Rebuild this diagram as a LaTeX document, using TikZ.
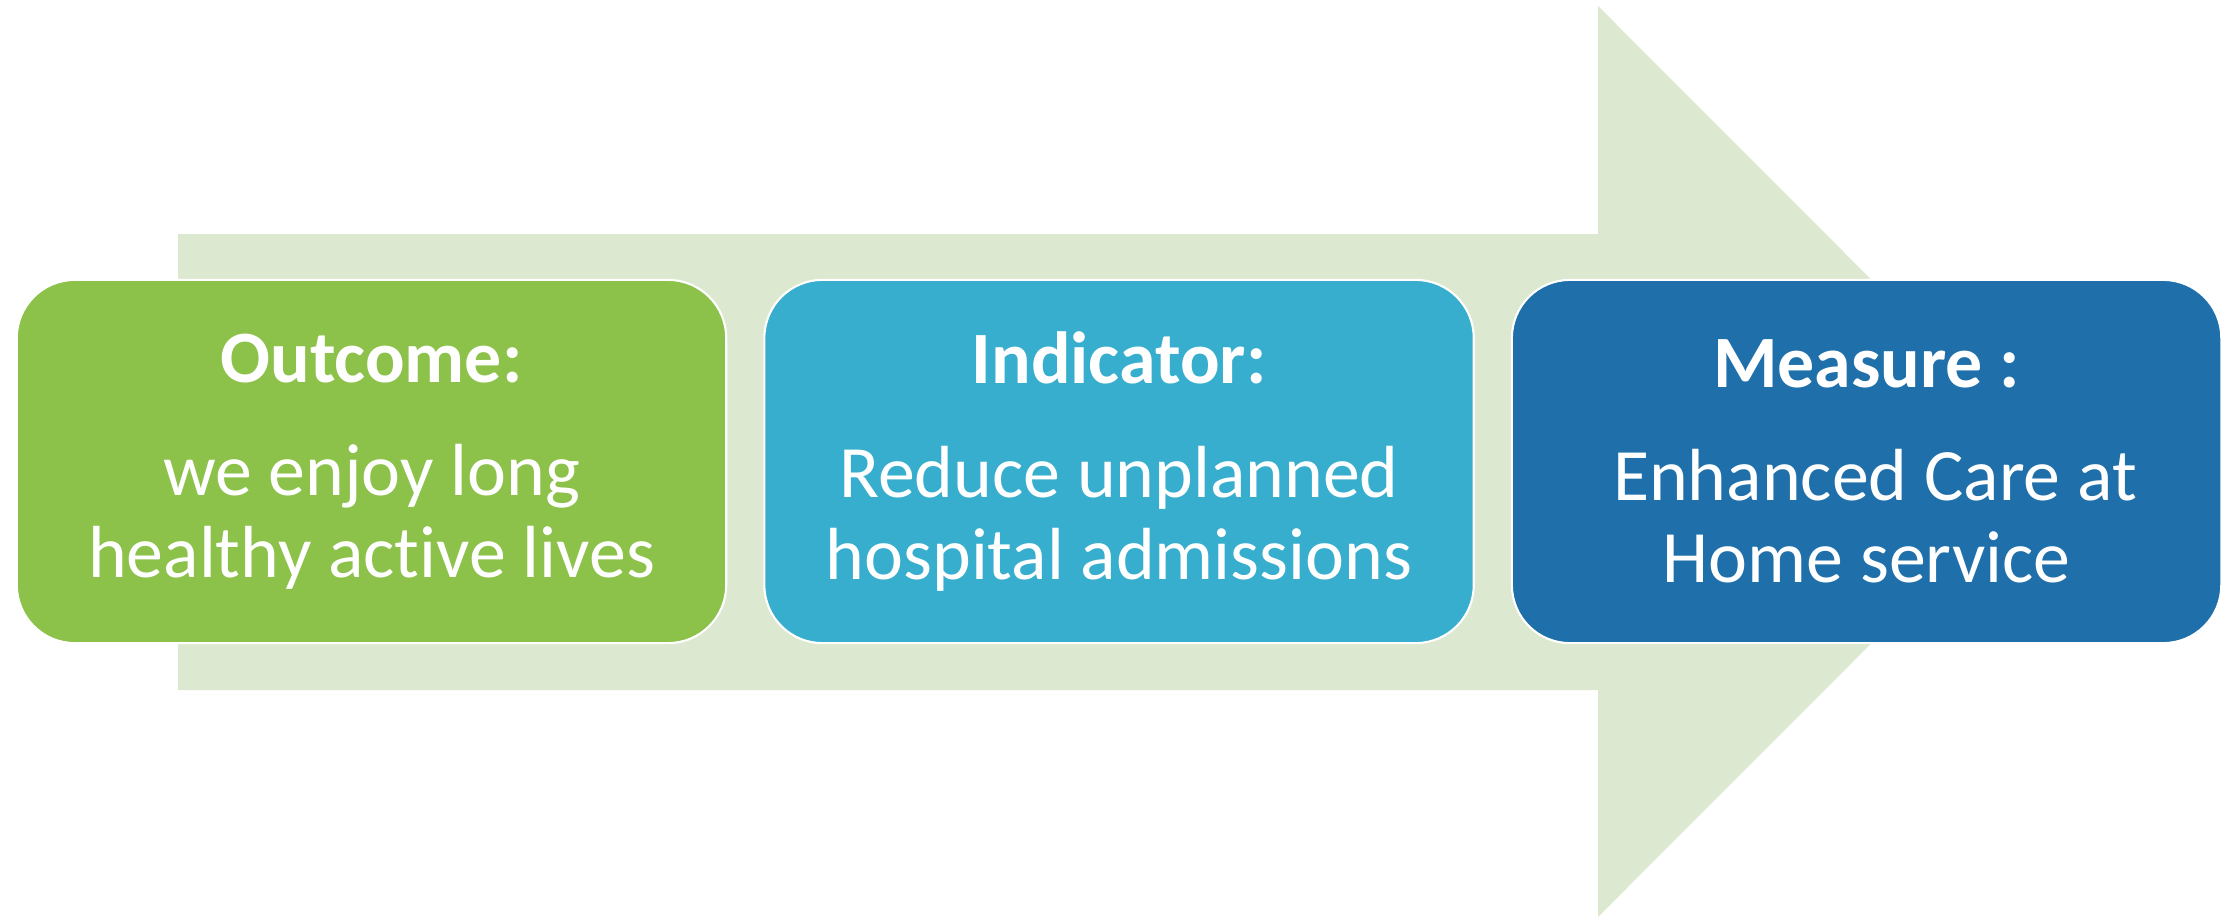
\documentclass[tikz,border=0pt]{standalone}
\usepackage{fontspec}
\setmainfont{Carlito}[Ligatures=NoCommon]
\usetikzlibrary{positioning}

\definecolor{outgreen}{RGB}{140,193,74}
\definecolor{indcyan}{RGB}{55,174,205}
\definecolor{measblue}{RGB}{31,112,170}
\definecolor{arrowgreen}{RGB}{220,232,208}

\tikzset{stagebox/.style={draw=white, line width=0.6pt, rounded corners=0.58cm,
    minimum width=7.09cm, minimum height=3.63cm, text=white, align=center,
    inner sep=0pt, font=\fontsize{21}{23.3}\selectfont}}

\begin{document}
\begin{tikzpicture}[x=0.01cm,y=-0.01cm]
    \useasboundingbox (0,0) rectangle (2233,918);
    % big arrow behind the boxes
    \fill [arrowgreen] (178,234) -- (1598,234) -- (1598,6) -- (2053,461.5)
        -- (1598,917) -- (1598,690) -- (178,690) -- cycle;
    % the three stages
    \node [stagebox, fill=outgreen] (outcome) at (371.5,461.5)
        {\textbf{Outcome:}\\[8.9pt] we enjoy long\\ healthy active lives};
    \node [stagebox, fill=indcyan, right=0.36cm of outcome] (indicator)
        {\textbf{Indicator:}\\[8.9pt] Reduce unplanned\\ hospital admissions};
    \node [stagebox, fill=measblue, right=0.36cm of indicator] (measure)
        {\textbf{Measure :}\\[8.9pt] \mbox{}\ Enhanced Care at\\ Home service};
\end{tikzpicture}
\end{document}
